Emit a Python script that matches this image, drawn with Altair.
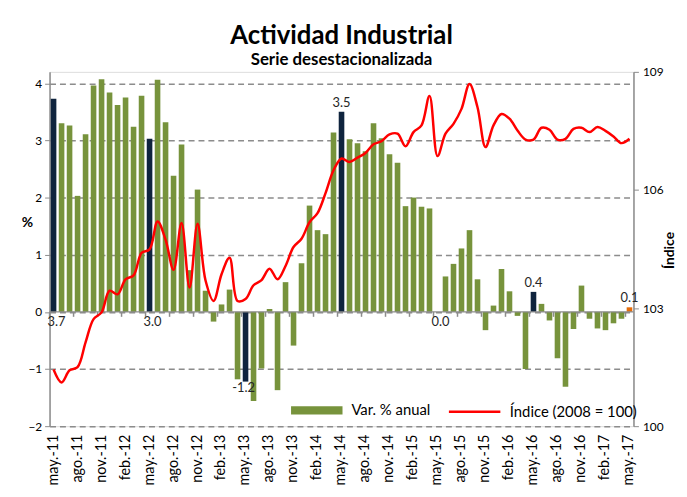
import altair as alt
import pandas as pd

# ---------------- data ----------------
abbr = ["ene.", "feb.", "mar.", "abr.", "may.", "jun.", "jul.", "ago.", "sep.", "oct.", "nov.", "dic."]
meses = [f"{abbr[(4 + i) % 12]}-{11 + (4 + i) // 12}" for i in range(73)]

var_anual = [3.73, 3.30, 3.26, 2.03, 3.11, 3.96, 4.07, 3.84, 3.62, 3.75, 3.24, 3.78,
             3.03, 4.06, 3.32, 2.38, 2.93, 0.73, 2.14, 0.37, -0.17, 0.13, 0.39, -1.18,
             -1.22, -1.56, -0.99, 0.05, -1.37, 0.52, -0.59, 0.85, 1.86, 1.43, 1.36, 3.14,
             3.50, 3.02, 2.95, 2.81, 3.30, 3.04, 2.76, 2.61, 1.85, 2.00, 1.84, 1.81,
             0.00, 0.62, 0.84, 1.11, 1.43, 0.57, -0.32, 0.11, 0.75, 0.36, -0.07, -1.00,
             0.35, 0.14, -0.15, -0.81, -1.31, -0.30, 0.46, -0.12, -0.29, -0.32, -0.20, -0.12,
             0.08]

indice = [101.44, 101.11, 101.42, 101.50, 102.13, 102.72, 102.89, 103.44, 103.35, 103.73, 103.83, 104.40,
          104.49, 105.20, 104.74, 103.97, 105.16, 103.52, 105.14, 103.70, 103.18, 103.86, 104.28, 103.18,
          103.23, 103.58, 103.71, 104.00, 103.73, 104.07, 104.55, 104.76, 105.18, 105.41, 105.92, 106.50,
          106.80, 106.71, 106.82, 106.94, 107.16, 107.24, 107.41, 107.43, 107.11, 107.47, 107.64, 108.39,
          106.86, 107.43, 107.68, 108.06, 108.69, 108.10, 107.09, 107.64, 107.93, 107.81, 107.51, 107.28,
          107.28, 107.58, 107.53, 107.28, 107.30, 107.55, 107.58, 107.47, 107.60, 107.50, 107.36, 107.19,
          107.30]

destacados = ["may.-11", "may.-12", "may.-13", "may.-14", "may.-15", "may.-16"]
ultimo = "may.-17"

etiquetas = {"may.-11": "3.7", "may.-12": "3.0", "may.-13": "-1.2", "may.-14": "3.5",
             "may.-15": "0.0", "may.-16": "0.4", "may.-17": "0.1"}
etiq_base = ["may.-11", "may.-12", "may.-15"]     # written under the zero line
etiq_abajo = ["may.-13"]                           # under a negative bar
etiq_arriba = ["may.-14", "may.-16", "may.-17"]    # above the bar

meses_eje = meses[::3]

serie_bar = "Var. % anual"
serie_lin = "Índice (2008 = 100)"

# ---------------- table ----------------
df = pd.DataFrame({"mes": meses, "var": var_anual, "indice": indice})
df["tipo"] = [("ultimo" if m == ultimo else "destacado" if m in destacados else serie_bar) for m in meses]
df["etiqueta"] = [etiquetas.get(m, "") for m in meses]
df["cero"] = 0.0
df["serie"] = serie_lin

FONT = "Lato"
GRIS = "#8C8C8C"

xax = alt.Axis(values=meses_eje, labelAngle=-90, domain=False, ticks=False, grid=False,
               title=None, labelFontSize=14.5, labelPadding=8, labelColor="black", labelFont=FONT)
xenc = alt.X("mes:N", sort=meses, scale=alt.Scale(paddingInner=0.3, paddingOuter=0.15), axis=xax)

yscale = alt.Scale(domain=[-2, 4.2], nice=False, zero=False)
yax = alt.Axis(values=[-2, -1, 0, 1, 2, 3, 4], grid=True, gridDash=[6, 4], gridColor=GRIS, gridWidth=1.5,
               domainColor=GRIS, domainWidth=1.5, tickColor=GRIS, tickSize=5, labelFontSize=12,
               labelColor="black", labelFont=FONT, labelPadding=3,
               title="%", titleAngle=0, titleX=-23, titleY=152, titleFontSize=14, titleFont=FONT,
               titleFontWeight="bold", titleAlign="center", titleBaseline="middle", titleColor="black")

base = alt.Chart(df)

bars = base.mark_bar().encode(
    x=xenc,
    y=alt.Y("var:Q", scale=yscale, axis=yax),
    y2=alt.Y2("cero:Q"),
    color=alt.Color("tipo:N",
                    scale=alt.Scale(domain=[serie_bar, "destacado", "ultimo"],
                                    range=["#77933C", "#0F243E", "#E46C0A"]),
                    legend=alt.Legend(values=[serie_bar], orient="none", legendX=244, legendY=316,
                                      title=None, symbolType="M-1,-0.16H1V0.16H-1Z", symbolSize=2704,
                                      symbolStrokeWidth=0, symbolOpacity=1, labelFontSize=15,
                                      labelFont=FONT, labelColor="black", labelOffset=9, padding=0)),
)

zero_rule = base.mark_rule(color=GRIS, strokeWidth=1.5).encode(
    y=alt.Y("cero:Q", scale=yscale, axis=yax),
).transform_filter(alt.datum.mes == meses[0])

ticks0 = base.mark_rule(color=GRIS, strokeWidth=1.5, xOffset=-4.04, y2Offset=5).encode(
    x=xenc,
    y=alt.Y("cero:Q", scale=yscale, axis=yax),
    y2=alt.Y2("cero:Q"),
).transform_filter(alt.FieldOneOfPredicate(field="mes", oneOf=meses_eje))

txt_style = dict(fontSize=13, font=FONT, color="#262626")
t_arriba = base.mark_text(baseline="bottom", dy=-2, **txt_style).encode(
    x=xenc, y=alt.Y("var:Q", scale=yscale, axis=yax), text="etiqueta:N"
).transform_filter(alt.FieldOneOfPredicate(field="mes", oneOf=etiq_arriba))
t_base = base.mark_text(baseline="top", dy=4, dx=3, **txt_style).encode(
    x=xenc, y=alt.Y("cero:Q", scale=yscale, axis=yax), text="etiqueta:N"
).transform_filter(alt.FieldOneOfPredicate(field="mes", oneOf=etiq_base))
t_abajo = base.mark_text(baseline="top", dy=1, dx=-2, **txt_style).encode(
    x=xenc, y=alt.Y("var:Q", scale=yscale, axis=yax), text="etiqueta:N"
).transform_filter(alt.FieldOneOfPredicate(field="mes", oneOf=etiq_abajo))

left = alt.layer(bars, zero_rule, ticks0, t_arriba, t_base, t_abajo)

line = base.mark_line(interpolate="catmull-rom", strokeWidth=2.5).encode(
    x=xenc,
    y=alt.Y("indice:Q", scale=alt.Scale(domain=[100, 109], nice=False, zero=False),
            axis=alt.Axis(orient="right", values=[100, 103, 106, 109], grid=False, domainColor=GRIS,
                          domainWidth=1.5, tickColor=GRIS, tickSize=5, labelFontSize=12, labelFont=FONT,
                          labelColor="black", labelPadding=4,
                          title="Índice", titleAngle=270, titleX=36, titleY=180, titleFontSize=14,
                          titleFont=FONT, titleFontWeight="bold", titleAlign="center",
                          titleBaseline="middle", titleColor="black")),
    stroke=alt.Stroke("serie:N", scale=alt.Scale(domain=[serie_lin], range=["#FF0000"]),
                      legend=alt.Legend(orient="none", legendX=402, legendY=316, title=None,
                                        symbolType="stroke", symbolSize=2704, symbolStrokeWidth=2.5,
                                        labelFontSize=15, labelFont=FONT, labelColor="black",
                                        labelOffset=8, padding=0)),
)

chart = alt.layer(left, line).resolve_scale(y="independent").properties(
    width=590, height=358,
    title=alt.Title("Actividad Industrial", subtitle="Serie desestacionalizada", anchor="middle",
                    fontSize=26, font=FONT, fontWeight="bold", color="black",
                    subtitleFontSize=17, subtitleFont=FONT, subtitleFontWeight="bold",
                    subtitleColor="black", subtitlePadding=3, offset=-2),
    autosize=alt.AutoSizeParams(type="none"),
    padding={"left": 42, "top": 62, "right": 46, "bottom": 65},
).configure_view(fill="#D9D9D9", stroke=None).configure(background="white")

chart.save("out.html", embed_options={"renderer": "svg", "actions": False})
